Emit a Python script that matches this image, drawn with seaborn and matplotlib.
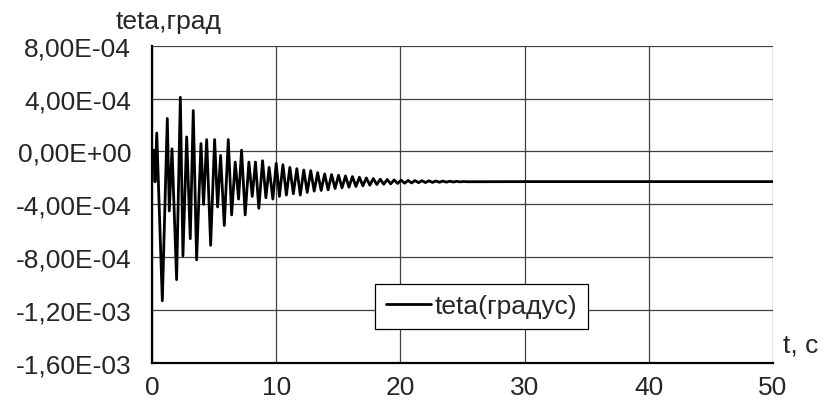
import numpy as np
import pandas as pd
import matplotlib
matplotlib.use("Agg")
import matplotlib.pyplot as plt
import seaborn as sns
from matplotlib.ticker import FuncFormatter

# время, с (экстремумы колебаний)
t_ext = [0.00, 0.13, 0.24, 0.38, 0.83, 1.23, 1.39, 1.61, 1.98, 2.28,
         2.49, 2.79, 3.08, 3.32, 3.59, 3.94, 4.15, 4.40, 4.72, 5.04,
         5.28, 5.52, 5.82, 6.14, 6.41, 6.70, 6.97, 7.21, 7.50, 7.80,
         8.07, 8.33, 8.60, 8.90, 9.17, 9.43, 9.73, 10.00, 10.26, 10.54,
         10.82, 11.10, 11.38, 11.66, 11.94, 12.22, 12.50, 12.78, 13.06, 13.34,
         13.62, 13.90, 14.18, 14.46, 14.74, 15.02, 15.30, 15.58, 15.86, 16.14,
         16.42, 16.70, 16.98, 17.26, 17.54, 17.82, 18.10, 18.38, 18.66, 18.94,
         19.22, 19.50, 19.78, 20.06, 20.34, 20.62, 20.90, 21.18, 21.46, 21.74,
         22.02, 22.30, 22.58, 22.86, 23.14, 23.42, 23.70, 23.98, 24.26, 24.54,
         24.82, 25.10, 25.38, 30.00, 40.00, 50.00]

# teta, 1E-4 град
teta_e4 = [0.0, 0.1, -2.3, 1.4, -11.3, 2.5, -4.5, 0.2, -9.7, 4.1,
           -7.9, 1.1, -6.6, 3.1, -8.2, 0.6, -4.0, 0.9, -7.1, 0.9,
           -4.2, -0.3, -5.6, 0.9, -4.8, -0.8, -3.6, 0.1, -4.8, -0.8,
           -3.4, -0.8, -4.3, -0.7, -3.5, -1.2, -3.6, -0.9, -3.4, -1.0,
           -3.3, -1.2, -3.2, -1.3, -3.3, -1.4, -3.1, -1.45, -3.0, -1.6,
           -2.95, -1.7, -2.9, -1.75, -2.8, -1.8, -2.75, -1.85, -2.7, -1.9,
           -2.65, -1.95, -2.6, -2.0, -2.55, -2.05, -2.5, -2.1, -2.48, -2.12,
           -2.45, -2.15, -2.42, -2.17, -2.4, -2.19, -2.38, -2.2, -2.36, -2.21,
           -2.35, -2.22, -2.34, -2.23, -2.33, -2.24, -2.32, -2.25, -2.31, -2.26,
           -2.3, -2.27, -2.29, -2.28, -2.28, -2.28]

x_ticks = [0, 10, 20, 30, 40, 50]
y_ticks = [-1.6e-3, -1.2e-3, -8e-4, -4e-4, 0.0, 4e-4, 8e-4]

df = pd.DataFrame({"t": t_ext, "teta": np.array(teta_e4) * 1e-4})

sns.set_style("white")
plt.rcParams["font.family"] = ["Liberation Sans", "DejaVu Sans"]

fs = 19
fig = plt.figure(figsize=(8.24, 4.14), dpi=100)
ax = fig.add_axes([0.1845, 0.121, 0.7535, 0.766])

sns.lineplot(data=df, x="t", y="teta", ax=ax, color="black", lw=2.0,
             label="teta(градус)", sort=False)

ax.set_xlim(0, 50)
ax.set_ylim(-1.6e-3, 8e-4)
ax.set_xticks(x_ticks)
ax.set_yticks(y_ticks)
ax.yaxis.set_major_formatter(FuncFormatter(lambda v, p: f"{v:.2E}".replace(".", ",")))
ax.grid(True, color="#404040", lw=0.9)
ax.set_axisbelow(True)

for s in ["top", "right"]:
    ax.spines[s].set_visible(False)
for s in ["left", "bottom"]:
    ax.spines[s].set_color("black")
    ax.spines[s].set_linewidth(1.6)

ax.tick_params(axis="both", direction="out", length=7, width=0.9, color="#404040",
               labelsize=fs)
ax.tick_params(axis="x", pad=2)
ax.tick_params(axis="y", pad=8)
ax.set_xlabel("")
ax.set_ylabel("")

fig.text(0.14, 0.947, "teta,град", fontsize=fs, ha="left", va="center")
fig.text(0.950, 0.165, "t, c", fontsize=fs, ha="left", va="center")

leg = ax.legend(loc="lower right", bbox_to_anchor=(0.702, 0.107), fontsize=fs,
                frameon=True, fancybox=False, framealpha=1, edgecolor="black",
                handlelength=1.7, handletextpad=0.15, borderpad=0.4,
                borderaxespad=0)
leg.get_frame().set_linewidth(0.9)

fig.savefig("out.png", dpi=100)
